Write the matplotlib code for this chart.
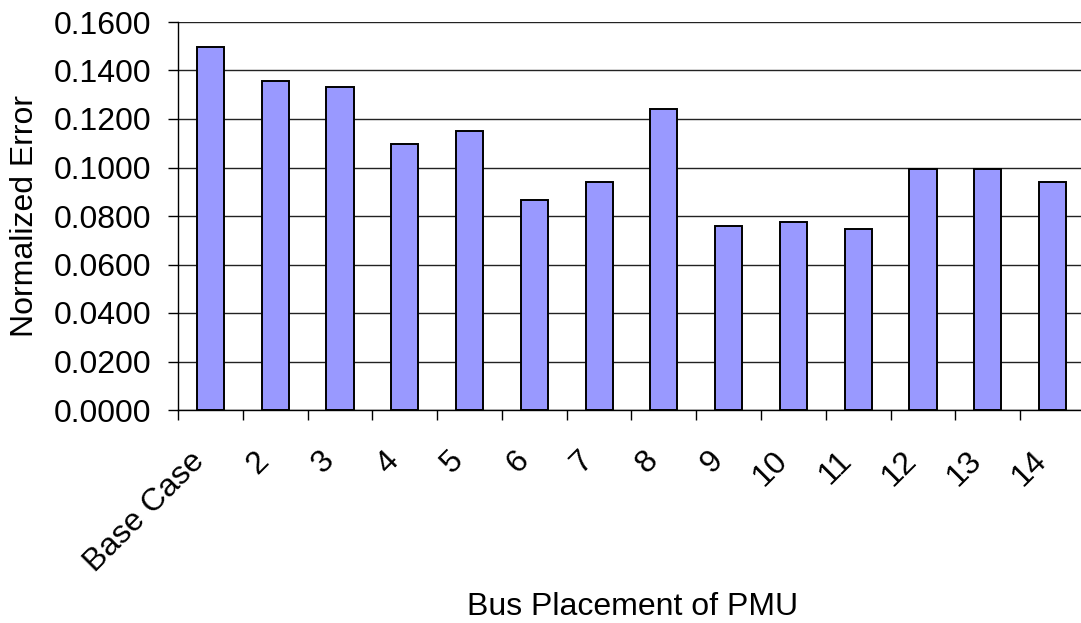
import numpy as np
import matplotlib
matplotlib.use("Agg")
import matplotlib.pyplot as plt
import matplotlib.transforms as mtransforms
from matplotlib.ticker import FormatStrFormatter

categories = ["Base Case", "2", "3", "4", "5", "6", "7", "8", "9", "10", "11", "12", "13", "14"]
errors = [0.1497, 0.1357, 0.1333, 0.1098, 0.1152, 0.0867, 0.0941, 0.1242,
          0.0760, 0.0775, 0.0747, 0.0994, 0.0994, 0.0941]

plt.rcParams['font.family'] = ['Liberation Sans', 'DejaVu Sans']
FS = 23

fig = plt.figure(figsize=(10.81, 6.23), dpi=100)
ax = fig.add_axes([178 / 1081, 213 / 623, 907 / 1081, 388 / 623])

x = np.arange(len(categories))
ax.bar(x, errors, width=0.42, color='#9999ff', edgecolor='black', linewidth=1.4, zorder=3)

ax.set_xlim(-0.5, len(categories) - 0.5)
ax.set_ylim(0, 0.16)
ax.set_yticks(np.arange(0, 0.1601, 0.02))
ax.yaxis.set_major_formatter(FormatStrFormatter('%.4f'))
ax.grid(axis='y', color='#222222', linewidth=1.0, zorder=0)

# labels at bar centres, tick marks at category boundaries
ax.set_xticks(x)
ax.set_xticklabels(categories, rotation=45, ha='right', va='top', rotation_mode='anchor')
ax.set_xticks(np.arange(-0.5, len(categories)), minor=True)
ax.tick_params(axis='x', which='major', length=0, pad=30, labelsize=FS)
ax.tick_params(axis='x', which='minor', length=7, width=1, direction='out')
ax.tick_params(axis='y', length=7, width=1, direction='out', pad=12, labelsize=FS)

shift = mtransforms.ScaledTranslation(-21 / 100, 6 / 100, fig.dpi_scale_trans)
for lbl in ax.get_xticklabels():
    lbl.set_transform(lbl.get_transform() + shift)

for s in ['top', 'right']:
    ax.spines[s].set_visible(False)
ax.spines['left'].set_linewidth(1.0)
ax.spines['bottom'].set_linewidth(1.0)

ax.set_ylabel('Normalized Error', fontsize=FS, labelpad=10)
fig.text(633 / 1081, 1 - 607 / 623, 'Bus Placement of PMU', fontsize=FS, ha='center', va='center')

fig.savefig('out.png', dpi=100)
